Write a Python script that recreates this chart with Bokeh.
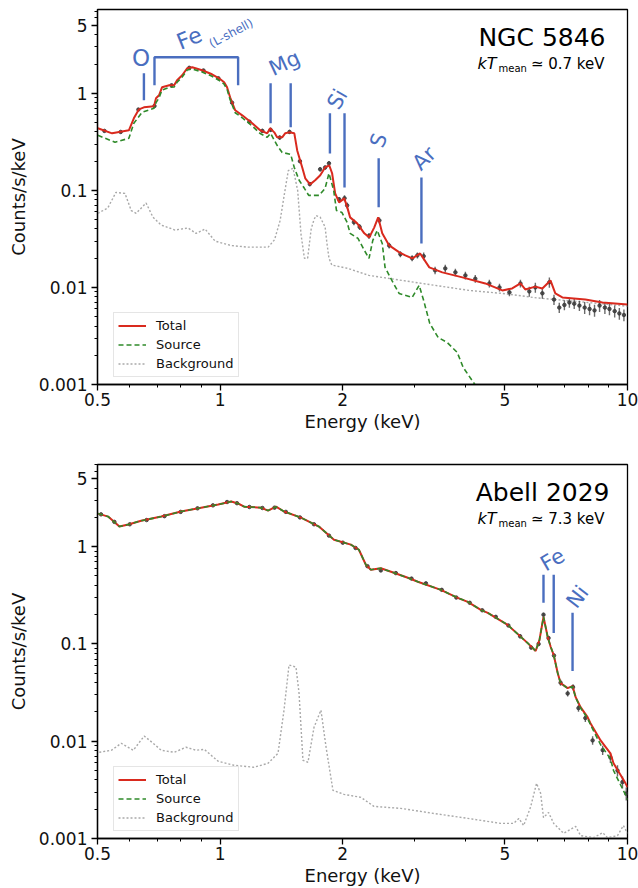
import numpy as np
from bokeh.plotting import figure
from bokeh.models import Range1d, FixedTicker, CustomJSTickFormatter, Legend, LegendItem
from bokeh.layouts import column
from bokeh.embed import file_html
from bokeh.resources import INLINE
from bokeh.core.properties import value

FONT = "DejaVu Sans"

# ---------------- axes ticks ----------------
x_ticks = [0.5, 1, 2, 5, 10]
x_minor = [0.6, 0.7, 0.8, 0.9, 3, 4, 6, 7, 8, 9]
y_ticks = [0.001, 0.01, 0.1, 1, 5]
y_minor = [0.002, 0.003, 0.004, 0.005, 0.006, 0.007, 0.008, 0.009,
           0.02, 0.03, 0.04, 0.05, 0.06, 0.07, 0.08, 0.09,
           0.2, 0.3, 0.4, 0.5, 0.6, 0.7, 0.8, 0.9,
           2, 3, 4, 6, 7]

# ---------------- NGC 5846 ----------------
ngc_total_e = [0.501, 0.543, 0.597, 0.614, 0.632, 0.650, 0.688, 0.696, 0.708, 0.720,
               0.750, 0.771, 0.784, 0.807, 0.830, 0.854, 0.903, 0.955, 0.994, 1.023,
               1.040, 1.058, 1.089, 1.133, 1.199, 1.254, 1.305, 1.327, 1.358, 1.380,
               1.420, 1.444, 1.477, 1.521, 1.546, 1.590, 1.618, 1.663, 1.711, 1.761,
               1.811, 1.853, 1.883, 1.916, 1.959, 2.017, 2.052, 2.085, 2.170, 2.259,
               2.323, 2.390, 2.443, 2.500, 2.600, 2.754, 2.848, 2.963, 3.097, 3.262,
               3.511, 3.932, 4.477, 4.927, 5.21, 5.46, 5.61, 5.94, 6.18, 6.47,
               6.65, 6.92, 7.88, 8.68, 10.0]
ngc_total = [0.436, 0.387, 0.416, 0.552, 0.684, 0.717, 0.734, 0.888, 0.954, 1.153,
             1.209, 1.209, 1.361, 1.533, 1.81, 1.854, 1.727, 1.57, 1.427, 1.30,
             1.153, 0.909, 0.668, 0.593, 0.491, 0.416, 0.387, 0.436, 0.396, 0.352,
             0.352, 0.387, 0.396, 0.387, 0.258, 0.173, 0.133, 0.1153, 0.127, 0.143,
             0.173, 0.181, 0.150, 0.0931, 0.0752, 0.0827, 0.0668, 0.0527, 0.0457, 0.0361,
             0.0328, 0.0416, 0.0527, 0.0361, 0.0271, 0.0230, 0.0214, 0.0199, 0.0224, 0.0161,
             0.0143, 0.0127, 0.0110, 0.00931, 0.00977, 0.0110, 0.00954, 0.0102, 0.00977, 0.0118,
             0.00867, 0.00788, 0.00752, 0.00700, 0.00668]

ngc_source_e = [0.501, 0.552, 0.597, 0.614, 0.643, 0.688, 0.696, 0.708, 0.720, 0.750,
                0.771, 0.784, 0.807, 0.830, 0.854, 0.903, 0.955, 0.994, 1.023, 1.040,
                1.058, 1.089, 1.133, 1.199, 1.254, 1.305, 1.330, 1.380, 1.420, 1.490,
                1.520, 1.563, 1.610, 1.650, 1.750, 1.810, 1.850, 1.900, 1.930, 1.990,
                2.050, 2.085, 2.180, 2.260, 2.320, 2.370, 2.430, 2.500, 2.540, 2.640,
                2.750, 2.960, 3.080, 3.160, 3.270, 3.430, 3.610, 3.820, 3.950, 4.220]
ngc_source = [0.369, 0.313, 0.344, 0.491, 0.637, 0.700, 0.80, 0.90, 1.08, 1.15,
              1.16, 1.30, 1.47, 1.74, 1.78, 1.66, 1.50, 1.36, 1.24, 1.10,
              0.86, 0.63, 0.56, 0.46, 0.385, 0.352, 0.387, 0.291, 0.246, 0.235,
              0.173, 0.127, 0.105, 0.0888, 0.0888, 0.105, 0.150, 0.100, 0.0622, 0.0593,
              0.0468, 0.0361, 0.0320, 0.0241, 0.0199, 0.0305, 0.0387, 0.0284, 0.0161, 0.0118,
              0.00867, 0.00788, 0.0105, 0.00734, 0.00426, 0.00305, 0.00271, 0.00214, 0.00150, 0.00100]

ngc_bkg_e = [0.501, 0.530, 0.555, 0.584, 0.605, 0.622, 0.658, 0.684, 0.716, 0.775,
             0.834, 0.873, 0.918, 0.972, 1.064, 1.171, 1.312, 1.360, 1.404, 1.437,
             1.470, 1.510, 1.550, 1.580, 1.610, 1.640, 1.673, 1.700, 1.720, 1.760,
             1.810, 1.830, 1.850, 1.880, 2.060, 2.320, 2.800, 3.370, 4.090, 4.930,
             6.000, 8.000, 10.00]
ngc_bkg = [0.0579, 0.066, 0.0954, 0.093, 0.062, 0.058, 0.074, 0.053, 0.044, 0.039,
           0.041, 0.036, 0.040, 0.030, 0.027, 0.026, 0.026, 0.031, 0.049, 0.090,
           0.160, 0.169, 0.10, 0.035, 0.020, 0.020, 0.040, 0.050, 0.055, 0.053,
           0.042, 0.028, 0.020, 0.017, 0.0157, 0.0133, 0.0118, 0.0105, 0.00931, 0.00867,
           0.0078, 0.0070, 0.0064]

ngc_data_e = [0.52, 0.57, 0.63, 0.69, 0.76, 0.84, 0.91, 0.99, 1.07, 1.18,
              1.27, 1.33, 1.40, 1.48, 1.57, 1.66, 1.76, 1.81, 1.85, 1.96,
              2.02, 2.05, 2.13, 2.20, 2.32, 2.46, 2.60, 2.77, 2.96, 3.05,
              3.16, 3.37, 3.57, 3.78, 4.00, 4.23, 4.58, 4.85, 5.13, 5.46,
              5.74, 5.94, 6.18, 6.43, 6.60, 6.80, 7.00, 7.20, 7.40, 7.62,
              7.85, 8.07, 8.30, 8.54, 8.80, 9.03, 9.30, 9.55, 9.80]
ngc_data = [0.41, 0.40, 0.68, 0.74, 1.21, 1.83, 1.72, 1.43, 0.80, 0.51,
            0.41, 0.42, 0.35, 0.40, 0.20, 0.116, 0.165, 0.172, 0.19, 0.081,
            0.083, 0.070, 0.047, 0.042, 0.034, 0.049, 0.027, 0.022, 0.020, 0.0214,
            0.021, 0.0150, 0.0157, 0.0143, 0.0133, 0.0123, 0.0110, 0.0100, 0.0089, 0.0110,
            0.0091, 0.0100, 0.0087, 0.0113, 0.0075, 0.0062, 0.0066, 0.0070, 0.0068, 0.0065,
            0.0062, 0.0060, 0.0058, 0.0065, 0.0062, 0.0060, 0.0057, 0.0054, 0.0052]
ngc_err = [0.03, 0.03, 0.03, 0.03, 0.03, 0.03, 0.03, 0.03, 0.03, 0.03,
           0.05, 0.05, 0.05, 0.05, 0.05, 0.05, 0.05, 0.05, 0.05, 0.05,
           0.07, 0.07, 0.07, 0.07, 0.07, 0.07, 0.07, 0.07, 0.07, 0.07,
           0.09, 0.09, 0.09, 0.09, 0.09, 0.09, 0.09, 0.09, 0.09, 0.09,
           0.12, 0.12, 0.12, 0.12, 0.12, 0.12, 0.12, 0.12, 0.12, 0.12,
           0.14, 0.14, 0.14, 0.14, 0.14, 0.14, 0.14, 0.14, 0.14]

ngc_line_e = [0.65, 1.33, 1.49, 1.86, 2.02, 2.45, 3.12]
ngc_line_lo = [0.85, 0.49, 0.446, 0.24, 0.107, 0.0668, 0.0284]
ngc_line_hi = [1.61, 1.27, 1.27, 0.622, 0.622, 0.214, 0.136]
ngc_fe_bracket_e = [0.69, 1.107]

# ---------------- Abell 2029 ----------------
a_total_e = [0.502, 0.531, 0.566, 0.595, 0.640, 0.717, 0.802, 0.898, 0.989, 1.064,
             1.107, 1.145, 1.260, 1.311, 1.371, 1.435, 1.579, 1.748, 1.903, 2.094,
             2.191, 2.279, 2.344, 2.481, 2.670, 2.889, 3.057, 3.482, 3.830, 4.055,
             4.363, 4.540, 5.080, 5.690, 5.950, 6.080, 6.220, 6.370, 6.480, 6.590,
             6.740, 6.850, 7.130, 7.330, 7.460, 7.670, 7.980, 8.110, 8.590, 9.080,
             9.240, 9.890, 10.00]
a_total = [2.19, 2.04, 1.61, 1.69, 1.85, 2.04, 2.30, 2.52, 2.71, 2.91,
           2.78, 2.58, 2.52, 2.35, 2.58, 2.30, 1.99, 1.61, 1.18, 1.05,
           0.931, 0.652, 0.579, 0.60, 0.540, 0.479, 0.436, 0.360, 0.298, 0.271,
           0.224, 0.209, 0.157, 0.102, 0.0847, 0.110, 0.190, 0.118, 0.0931, 0.0770,
           0.0502, 0.0396, 0.0352, 0.0369, 0.0284, 0.0224, 0.0177, 0.0153, 0.0102, 0.00752,
           0.00593, 0.00369, 0.00336]
a_source = [2.19, 2.04, 1.61, 1.69, 1.85, 2.04, 2.30, 2.52, 2.71, 2.91,
            2.78, 2.58, 2.52, 2.35, 2.58, 2.30, 1.99, 1.61, 1.18, 1.05,
            0.931, 0.652, 0.579, 0.60, 0.540, 0.479, 0.436, 0.360, 0.298, 0.271,
            0.224, 0.209, 0.157, 0.102, 0.0847, 0.110, 0.190, 0.118, 0.0931, 0.0770,
            0.0502, 0.0396, 0.0350, 0.0365, 0.0280, 0.0220, 0.0172, 0.0148, 0.0092, 0.0066,
            0.0050, 0.0028, 0.0025]

a_bkg_e = [0.505, 0.541, 0.572, 0.612, 0.651, 0.685, 0.717, 0.771, 0.825, 0.873,
           0.914, 0.989, 1.082, 1.211, 1.311, 1.387, 1.435, 1.476, 1.535, 1.562,
           1.597, 1.643, 1.700, 1.768, 1.820, 1.892, 2.014, 2.216, 2.385, 2.778,
           3.345, 4.055, 4.885, 5.256, 5.410, 5.560, 5.780, 5.980, 6.120, 6.220,
           6.400, 6.590, 6.970, 7.460, 7.670, 8.260, 8.690, 8.930, 9.450, 9.770,
           10.00]
a_bkg = [0.0077, 0.00807, 0.00953, 0.00807, 0.0113, 0.00953, 0.00807, 0.0077, 0.00867, 0.00807,
         0.00826, 0.00622, 0.00566, 0.0054, 0.00593, 0.00752, 0.0209, 0.0608, 0.0579, 0.0313,
         0.00637, 0.00608, 0.0139, 0.0209, 0.00867, 0.00313, 0.00284, 0.00265, 0.00214, 0.00204,
         0.00181, 0.00161, 0.00143, 0.00143, 0.00161, 0.00136, 0.00209, 0.00369, 0.00291, 0.00164,
         0.00185, 0.00143, 0.00113, 0.00133, 0.00107, 0.00102, 0.00115, 0.00102, 0.00107, 0.00136,
         0.00113]

a_data_e = [0.51, 0.55, 0.60, 0.66, 0.73, 0.80, 0.88, 0.96, 1.04, 1.10,
            1.18, 1.27, 1.36, 1.45, 1.57, 1.70, 1.85, 2.00, 2.15, 2.30,
            2.48, 2.70, 2.95, 3.20, 3.50, 3.80, 4.10, 4.40, 4.75, 5.10,
            5.45, 5.80, 6.05, 6.22, 6.40, 6.60, 6.85, 7.13, 7.35, 7.58,
            7.88, 8.21, 8.69, 9.08, 9.45, 9.72, 9.93]
a_data = [2.15, 1.80, 1.70, 1.88, 2.06, 2.28, 2.48, 2.66, 2.88, 2.80,
          2.56, 2.50, 2.52, 2.28, 2.00, 1.70, 1.30, 1.10, 0.97, 0.63,
          0.57, 0.535, 0.47, 0.42, 0.36, 0.30, 0.265, 0.222, 0.19, 0.155,
          0.12, 0.092, 0.10, 0.20, 0.115, 0.076, 0.040, 0.031, 0.036, 0.0219,
          0.0173, 0.0102, 0.0081, 0.0068, 0.0050, 0.0038, 0.0029]
a_err = [0.02, 0.02, 0.02, 0.02, 0.02, 0.02, 0.02, 0.02, 0.02, 0.02,
         0.02, 0.02, 0.02, 0.02, 0.02, 0.02, 0.02, 0.02, 0.02, 0.02,
         0.03, 0.03, 0.03, 0.03, 0.03, 0.03, 0.03, 0.03, 0.03, 0.03,
         0.05, 0.05, 0.05, 0.05, 0.05, 0.05, 0.07, 0.07, 0.07, 0.08,
         0.09, 0.10, 0.11, 0.12, 0.13, 0.14, 0.15]

a_line_e = [6.22, 6.59, 7.33]
a_line_lo = [0.265, 0.130, 0.0527]
a_line_hi = [0.514, 0.514, 0.209]

# ---------------- styles ----------------
RED = "#d92a1e"
GREEN = "#2f8a2a"
GRAY = "#a9a9a9"
BLUE = "#4a6ebf"
DATA = "#3a3a3a"


def make_fig(height, ymax, top, bottom, left, right):
    p = figure(width=638, height=height, x_axis_type="log", y_axis_type="log",
               x_range=Range1d(0.5, 10), y_range=Range1d(0.001, ymax),
               output_backend="svg", toolbar_location=None,
               min_border_left=left, min_border_right=right,
               min_border_top=top, min_border_bottom=bottom)
    p.xgrid.visible = False
    p.ygrid.visible = False
    p.outline_line_color = "black"
    p.outline_line_width = 1.3
    p.outline_line_alpha = 1.0
    p.background_fill_color = "white"
    p.border_fill_color = "white"
    p.xaxis.ticker = FixedTicker(ticks=x_ticks, minor_ticks=x_minor)
    p.yaxis.ticker = FixedTicker(ticks=y_ticks, minor_ticks=y_minor)
    for ax in (p.xaxis[0], p.yaxis[0]):
        ax.formatter = CustomJSTickFormatter(code="return tick.toString();")
        ax.axis_line_color = "black"
        ax.axis_line_width = 1.3
        ax.major_tick_line_color = "black"
        ax.major_tick_line_width = 1.3
        ax.major_tick_out = 6
        ax.major_tick_in = 0
        ax.minor_tick_line_color = "black"
        ax.minor_tick_line_width = 1
        ax.minor_tick_out = 3
        ax.minor_tick_in = 0
        ax.major_label_text_font = FONT
        ax.major_label_text_font_size = "17px"
        ax.major_label_text_color = "#111111"
        ax.major_label_standoff = 2
        ax.axis_label_text_font = FONT
        ax.axis_label_text_font_size = "18px"
        ax.axis_label_text_font_style = "normal"
        ax.axis_label_text_color = "#111111"
        ax.axis_label_standoff = 2
    p.xaxis.axis_label = "Energy (keV)"
    p.yaxis.axis_label = "Counts/s/keV"
    p.yaxis.major_label_standoff = 4
    p.yaxis.axis_label_standoff = 7
    return p


def txt(p, x, y, s, size, color="black", angle=0.0, align="center",
        baseline="middle", style="normal", xo=0, yo=0):
    p.text(x=[x], y=[y], text=[s], angle=np.deg2rad(angle),
           text_font=value(FONT), text_font_size=size, text_color=color,
           text_align=align, text_baseline=baseline, text_font_style=style,
           x_offset=xo, y_offset=yo)


def draw_spectrum(p, tot_e, tot, src_e, src, bkg_e, bkg, d_e, d, d_err):
    lo = [v * (1 - e) for v, e in zip(d, d_err)]
    hi = [v * (1 + e) for v, e in zip(d, d_err)]
    r_b = p.line(bkg_e, bkg, line_color=GRAY, line_width=1.4, line_dash="2 2")
    p.segment(x0=d_e, y0=lo, x1=d_e, y1=hi, line_color=DATA, line_width=1.4,
              line_alpha=0.75)
    p.scatter(d_e, d, size=3.5, color=DATA, alpha=0.85)
    r_t = p.line(tot_e, tot, line_color=RED, line_width=2)
    r_s = p.line(src_e, src, line_color=GREEN, line_width=1.6, line_dash="5 3")
    leg = Legend(items=[LegendItem(label="Total", renderers=[r_t]),
                        LegendItem(label="Source", renderers=[r_s]),
                        LegendItem(label="Background", renderers=[r_b])],
                 location=(16, 7))
    leg.margin = 0
    leg.padding = 4
    leg.spacing = 2
    leg.glyph_width = 28
    leg.glyph_height = 17
    leg.label_height = 17
    leg.label_standoff = 10
    leg.label_text_font = FONT
    leg.label_text_font_size = "13px"
    leg.label_text_color = "#111111"
    leg.border_line_color = "#cccccc"
    leg.border_line_width = 1
    leg.background_fill_alpha = 0.9
    p.add_layout(leg)


# ---------------- top panel: NGC 5846 ----------------
YMAX_TOP = 7.3
p1 = make_fig(440, YMAX_TOP, top=9, bottom=56, left=96, right=11)
draw_spectrum(p1, ngc_total_e, ngc_total, ngc_source_e, ngc_source,
              ngc_bkg_e, ngc_bkg, ngc_data_e, ngc_data, ngc_err)

p1.segment(x0=ngc_line_e, y0=ngc_line_lo, x1=ngc_line_e, y1=ngc_line_hi,
           line_color=BLUE, line_width=2.4)
p1.line(x=[ngc_fe_bracket_e[0], ngc_fe_bracket_e[0], ngc_fe_bracket_e[1], ngc_fe_bracket_e[1]],
        y=[1.21, 2.35, 2.35, 1.21], line_color=BLUE, line_width=2.4)

txt(p1, 0.64, 2.3, "O", "23px", BLUE)
txt(p1, 0.84, 3.69, "Fe", "22px", BLUE, angle=22)
txt(p1, 1.064, 4.16, "(L-shell)", "12px", BLUE, angle=28)
txt(p1, 1.44, 2.04, "Mg", "21px", BLUE, angle=25)
txt(p1, 1.94, 0.867, "Si", "21px", BLUE, angle=60)
txt(p1, 2.45, 0.328, "S", "21px", BLUE, angle=70)
txt(p1, 3.17, 0.214, "Ar", "21px", BLUE, angle=45)

txt(p1, 10, YMAX_TOP, "NGC 5846", "25px", "black", align="right", xo=-22, yo=28)
txt(p1, 10, YMAX_TOP, "kT", "16px", "black", align="right", style="italic", xo=-131, yo=54)
txt(p1, 10, YMAX_TOP, "mean", "10px", "black", align="left", xo=-129, yo=59)
txt(p1, 10, YMAX_TOP, "\u2243 0.7 keV", "15px", "black", align="right", xo=-23, yo=54)

# ---------------- bottom panel: Abell 2029 ----------------
YMAX_BOT = 7.0
p2 = make_fig(448, YMAX_BOT, top=24, bottom=50, left=97, right=11)
draw_spectrum(p2, a_total_e, a_total, a_total_e, a_source,
              a_bkg_e, a_bkg, a_data_e, a_data, a_err)

p2.segment(x0=a_line_e, y0=a_line_lo, x1=a_line_e, y1=a_line_hi,
           line_color=BLUE, line_width=2.4)
txt(p2, 6.55, 0.734, "Fe", "21px", BLUE, angle=30)
txt(p2, 7.54, 0.305, "Ni", "21px", BLUE, angle=52)

txt(p2, 10, YMAX_BOT, "Abell 2029", "25px", "black", align="right", xo=-18, yo=28)
txt(p2, 10, YMAX_BOT, "kT", "16px", "black", align="right", style="italic", xo=-131, yo=54)
txt(p2, 10, YMAX_BOT, "mean", "10px", "black", align="left", xo=-129, yo=59)
txt(p2, 10, YMAX_BOT, "\u2243 7.3 keV", "15px", "black", align="right", xo=-23, yo=54)

layout = column(p1, p2, spacing=0)
open("out.html", "w").write(file_html(layout, INLINE))
